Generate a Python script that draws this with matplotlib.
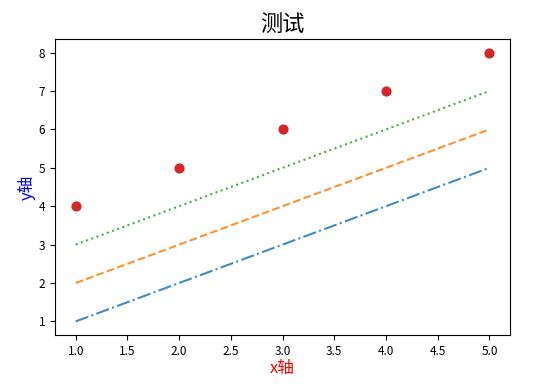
import numpy as np
import matplotlib
matplotlib.use('Agg')
import matplotlib.pyplot as plt

plt.rcParams['font.family'] = ['Noto Sans CJK SC', 'DejaVu Sans']
plt.rcParams['axes.unicode_minus'] = False

x = [1, 2, 3, 4, 5]
y_line1 = [1, 2, 3, 4, 5]
y_line2 = [2, 3, 4, 5, 6]
y_line3 = [3, 4, 5, 6, 7]
y_points = [4, 5, 6, 7, 8]

fig = plt.figure(figsize=(5.45, 3.84), dpi=100)
ax = fig.add_axes([0.101, 0.128, 0.835, 0.77])

ax.plot(x, y_line1, linestyle='-.', color='#1f77b4', alpha=0.85)
ax.plot(x, y_line2, linestyle='--', color='#ff7f0e', alpha=0.85)
ax.plot(x, y_line3, linestyle=':', color='#2ca02c', alpha=0.85)
ax.scatter(x, y_points, color='#d62728', s=40)

ax.set_title('测试', fontsize=16)
ax.set_xlabel('x轴', color='red', fontsize=12, labelpad=2)
ax.set_ylabel('y轴', color='blue', fontsize=12, labelpad=2)
ax.tick_params(labelsize=8.5)

fig.savefig('out.png', dpi=100)
